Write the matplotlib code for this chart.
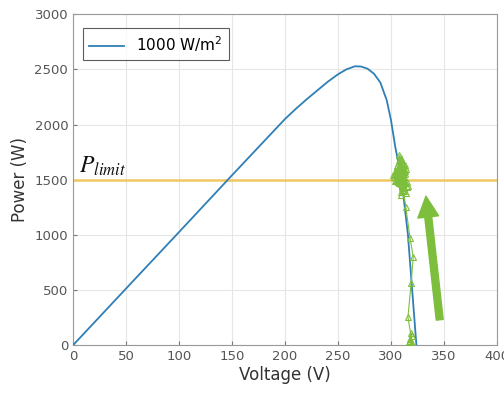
import numpy as np
import matplotlib.pyplot as plt

# --- data ---
pv_voltage = [0, 50, 100, 150, 200, 210, 220, 230, 240, 250, 258, 266, 272, 278, 284, 290,
              296, 300, 304, 307, 310, 313, 316, 318, 320, 322, 324]
pv_power = [0, 513, 1025, 1540, 2050, 2140, 2225, 2305, 2385, 2455, 2500, 2528, 2525, 2505,
            2460, 2380, 2220, 2040, 1800, 1650, 1500, 1250, 1000, 750, 500, 250, 0]

mppt_v = [319, 318, 320, 317, 319, 318, 320, 316, 319, 321, 318, 314, 311, 309, 312, 307, 310,
          308, 311, 306, 309, 313, 308, 310, 307, 312, 309, 311, 305, 310, 308, 312, 309, 307,
          311, 310, 306, 309, 313, 308, 310, 312, 307, 309, 311, 308, 310, 314, 309, 307, 310,
          304, 315, 306, 311, 303, 309, 316, 305, 312, 308, 302, 310, 314, 307, 309, 311, 306,
          313, 308, 304, 310, 312, 307, 309, 315, 305, 311, 308, 310, 306, 313, 309, 307, 311,
          304, 310, 312, 308, 309]
mppt_p = [10, 40, 80, 30, 110, 60, 20, 254, 560, 798, 970, 1250, 1450, 1600, 1520, 1480, 1650,
          1550, 1420, 1580, 1500, 1470, 1620, 1530, 1560, 1400, 1690, 1510, 1540, 1450, 1600,
          1490, 1570, 1520, 1640, 1480, 1530, 1460, 1550, 1590, 1500, 1420, 1540, 1610, 1490,
          1560, 1530, 1380, 1700, 1510, 1540, 1560, 1480, 1620, 1410, 1520, 1660, 1440, 1580,
          1500, 1720, 1540, 1460, 1600, 1530, 1390, 1570, 1490, 1630, 1510, 1550, 1470, 1590,
          1520, 1680, 1430, 1500, 1560, 1610, 1450, 1540, 1580, 1360, 1520, 1640, 1490, 1550,
          1600, 1470, 1530]

P_LIMIT = 1500
ARROW_TAIL = (346, 230)
ARROW_HEAD = (333, 1350)

BLUE = '#2f7fb6'
GREEN = '#7dbf3c'
YELLOW = '#efc95f'
GRAY = '#777777'

fig = plt.figure(figsize=(5.04, 3.94), dpi=100)
ax = fig.add_axes([0.145, 0.124, 0.841, 0.840])

ax.axhline(P_LIMIT, color=YELLOW, linewidth=1.8, zorder=2)
ax.plot(pv_voltage, pv_power, color=BLUE, linewidth=1.3, label='1000 W/m$^2$', zorder=3)
ax.plot(mppt_v, mppt_p, color=GREEN, linewidth=0.8, marker='^', markersize=5,
        markerfacecolor='none', markeredgecolor=GREEN, markeredgewidth=0.8, zorder=4)

ax.annotate('', xy=ARROW_HEAD, xytext=ARROW_TAIL,
            arrowprops=dict(facecolor=GREEN, edgecolor=GREEN, width=5, headwidth=15,
                            headlength=15, shrink=0), zorder=5)

ax.text(6, 1560, r'$P_{limit}$', fontsize=17, family='STIXGeneral',
        math_fontfamily='stix', color='#111111')

ax.set_xlim(0, 400)
ax.set_ylim(0, 3000)
ax.set_xticks(np.arange(0, 401, 50))
ax.set_yticks(np.arange(0, 3001, 500))
ax.tick_params(direction='in', length=3, labelsize=9.5, colors=GRAY, labelcolor='#555555')
ax.grid(True, color='#e6e6e6', linewidth=0.8)
ax.set_axisbelow(True)
for s in ax.spines.values():
    s.set_color('#999999')

ax.set_xlabel('Voltage (V)', fontsize=12, color='#333333', labelpad=2)
ax.set_ylabel('Power (W)', fontsize=12, color='#333333', labelpad=4)

leg = ax.legend(loc='upper left', fontsize=11, fancybox=False, edgecolor='#333333',
                handlelength=2.3, borderpad=0.4, bbox_to_anchor=(0.005, 0.98))
leg.get_frame().set_linewidth(0.8)

fig.savefig('out.png', dpi=100)
